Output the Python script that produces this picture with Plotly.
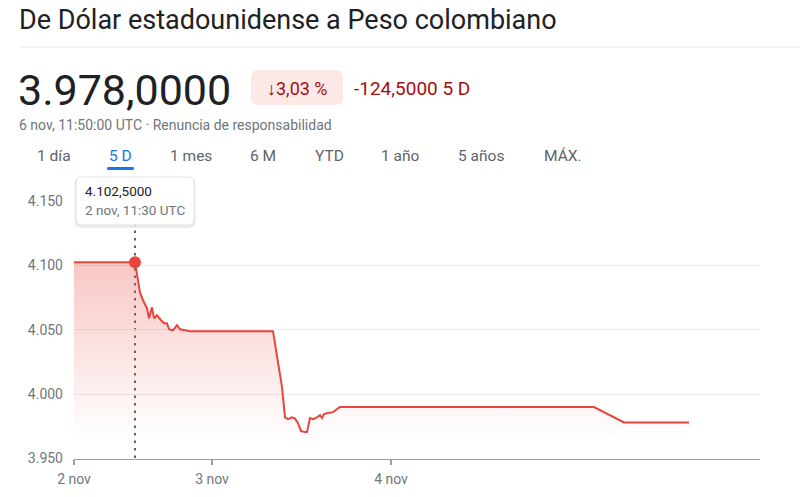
import plotly.graph_objects as go

# ---------------- data ----------------
# position along the 5-day trading axis (index units) and USD/COP value
t_pos = [0, 61, 62, 66, 69, 73, 75, 78, 80, 83, 87, 90, 93, 95, 99, 103, 106, 111, 116,
         199, 204, 208, 211, 214, 218, 221, 224, 227, 231, 233, 236, 239, 243, 246, 248,
         250, 254, 259, 266, 520, 550, 615]
rate = [4102.5, 4102.5, 4097.7, 4079.0, 4072.9, 4066.7, 4058.9, 4067.4, 4058.9, 4061.2,
        4057.4, 4055.0, 4055.0, 4050.4, 4049.6, 4053.5, 4050.4, 4049.6, 4048.8,
        4048.8, 4024.0, 4005.4, 3982.0, 3980.6, 3982.0, 3981.0, 3977.5, 3971.3, 3970.5,
        3970.5, 3981.4, 3980.6, 3982.0, 3983.7, 3981.4, 3984.5, 3985.3, 3986.0, 3990.0,
        3990.0, 3978.0, 3978.0]
sel_index = 1  # hovered point: 2 nov, 11:30 UTC

x_tick_vals = [0, 138, 317]
x_tick_text = ["2 nov", "3 nov", "4 nov"]
y_tick_vals = [3950, 4000, 4050, 4100, 4150]
y_tick_text = ["3.950", "4.000", "4.050", "4.100", "4.150"]

title_text = "De Dólar estadounidense a Peso colombiano"
price_text = "3.978,0000"
pct_text = "↓3,03 %"
change_text = "-124,5000 5 D"
sub_text = "6 nov, 11:50:00 UTC · Renuncia de responsabilidad"
tabs = ["1 día", "5 D", "1 mes", "6 M", "YTD", "1 año", "5 años", "MÁX."]
tab_x = [54, 120, 191, 263, 329, 400, 481, 563]
active_tab = 1
tip_value = "4.102,5000"
tip_time = "2 nov, 11:30 UTC"

# ---------------- helpers ----------------
W, H = 800, 497
RED = "#e8453c"
FONT = "Roboto"


def fx(px):
    return px / W


def fy(py):
    return 1 - py / H


def rrect(x0, y0, x1, y1, r):
    pts = [
        ("M", x0 + r, y0), ("L", x1 - r, y0), ("Q", x1, y0, x1, y0 + r),
        ("L", x1, y1 - r), ("Q", x1, y1, x1 - r, y1), ("L", x0 + r, y1),
        ("Q", x0, y1, x0, y1 - r), ("L", x0, y0 + r), ("Q", x0, y0, x0 + r, y0),
    ]
    s = ""
    for p in pts:
        cmd = p[0]
        coords = p[1:]
        parts = []
        for i in range(0, len(coords), 2):
            parts.append(f"{fx(coords[i]):.5f},{fy(coords[i + 1]):.5f}")
        s += cmd + " " + " ".join(parts) + " "
    return s + "Z"


fig = go.Figure()

fig.add_trace(go.Scatter(
    x=t_pos, y=rate, mode="lines",
    line=dict(color=RED, width=2),
    fill="tozeroy",
    fillgradient=dict(
        type="vertical", start=3965, stop=4102.5,
        colorscale=[[0, "rgba(232,69,60,0)"], [1, "rgba(232,69,60,0.30)"]],
    ),
    hoverinfo="skip", showlegend=False,
))

fig.add_trace(go.Scatter(
    x=[t_pos[sel_index]], y=[rate[sel_index]], mode="markers",
    marker=dict(color=RED, size=12),
    hoverinfo="skip", showlegend=False,
))

shapes = []
annotations = []

# separator under title
shapes.append(dict(type="line", xref="paper", yref="paper",
                   x0=fx(19), x1=fx(800), y0=fy(47), y1=fy(47),
                   line=dict(color="#ebebeb", width=1)))
# badge
shapes.append(dict(type="path", xref="paper", yref="paper",
                   path=rrect(251, 70, 343, 105, 8),
                   fillcolor="#fce8e6", line=dict(width=0)))
# active tab underline
shapes.append(dict(type="path", xref="paper", yref="paper",
                   path=rrect(107, 167, 134, 170, 1.5),
                   fillcolor="#1a73e8", line=dict(width=0)))
# dotted hover line (beneath the traces so the point sits on top)
shapes.append(dict(type="line", xref="x", yref="paper", layer="below",
                   x0=t_pos[sel_index], x1=t_pos[sel_index], y0=fy(458), y1=fy(225),
                   line=dict(color="#5f6368", width=2, dash="2.5px,5px")))
# tooltip shadow + box
shapes.append(dict(type="path", xref="paper", yref="paper",
                   path=rrect(74.5, 177, 195.5, 228, 7),
                   fillcolor="rgba(0,0,0,0.08)", line=dict(width=0)))
shapes.append(dict(type="path", xref="paper", yref="paper",
                   path=rrect(76, 177, 194, 225, 6),
                   fillcolor="white", line=dict(color="#e3e3e3", width=1)))

annotations.append(dict(xref="paper", yref="paper", x=fx(17), y=fy(20),
                        xanchor="left", yanchor="middle", showarrow=False,
                        text=title_text, font=dict(family=FONT, size=27, color="#202124")))
annotations.append(dict(xref="paper", yref="paper", x=fx(16), y=fy(90),
                        xanchor="left", yanchor="middle", showarrow=False,
                        text=price_text, font=dict(family=FONT, size=43, color="#202124")))
annotations.append(dict(xref="paper", yref="paper", x=fx(297), y=fy(88),
                        xanchor="center", yanchor="middle", showarrow=False,
                        text=pct_text, font=dict(family=FONT, size=18, color="#a50e0e")))
annotations.append(dict(xref="paper", yref="paper", x=fx(352), y=fy(88),
                        xanchor="left", yanchor="middle", showarrow=False,
                        text=change_text, font=dict(family=FONT, size=19, color="#a50e0e")))
annotations.append(dict(xref="paper", yref="paper", x=fx(17), y=fy(125),
                        xanchor="left", yanchor="middle", showarrow=False,
                        text=sub_text, font=dict(family=FONT, size=14, color="#70757a")))
for i, (t, tx) in enumerate(zip(tabs, tab_x)):
    annotations.append(dict(xref="paper", yref="paper", x=fx(tx), y=fy(156),
                            xanchor="center", yanchor="middle", showarrow=False,
                            text=t, font=dict(family=FONT, size=15.5,
                                              color="#1a73e8" if i == active_tab else "#5f6368")))
annotations.append(dict(xref="paper", yref="paper", x=fx(83), y=fy(191),
                        xanchor="left", yanchor="middle", showarrow=False,
                        text=tip_value, font=dict(family=FONT, size=13.5, color="#202124")))
annotations.append(dict(xref="paper", yref="paper", x=fx(83), y=fy(210),
                        xanchor="left", yanchor="middle", showarrow=False,
                        text=tip_time, font=dict(family=FONT, size=13.5, color="#70757a")))

fig.update_layout(
    template="none",
    width=W, height=H,
    margin=dict(l=0, r=0, t=0, b=0),
    paper_bgcolor="white", plot_bgcolor="white",
    showlegend=False,
    shapes=shapes,
    annotations=annotations,
    xaxis=dict(
        domain=[fx(74), fx(760)], range=[0, 686],
        tickmode="array", tickvals=x_tick_vals, ticktext=x_tick_text,
        showgrid=False, zeroline=False, showline=True, linecolor="#9aa0a6", linewidth=1,
        ticks="outside", ticklen=5, tickcolor="#9aa0a6", tickwidth=2,
        ticklabelstandoff=3,
        tickfont=dict(family=FONT, size=14, color="#70757a"),
        automargin=False, fixedrange=True,
    ),
    yaxis=dict(
        domain=[fy(458.5), fy(201)], range=[3950, 4150],
        tickmode="array", tickvals=y_tick_vals, ticktext=y_tick_text,
        showgrid=True, gridcolor="#ebebeb", gridwidth=1,
        zeroline=False, showline=False, ticks="",
        ticklabelstandoff=10,
        tickfont=dict(family=FONT, size=14, color="#70757a"),
        automargin=False, fixedrange=True,
    ),
)

fig.write_html("out.html", include_plotlyjs=True,
               config={"displayModeBar": False},
               post_script="document.body.style.margin='0';")
